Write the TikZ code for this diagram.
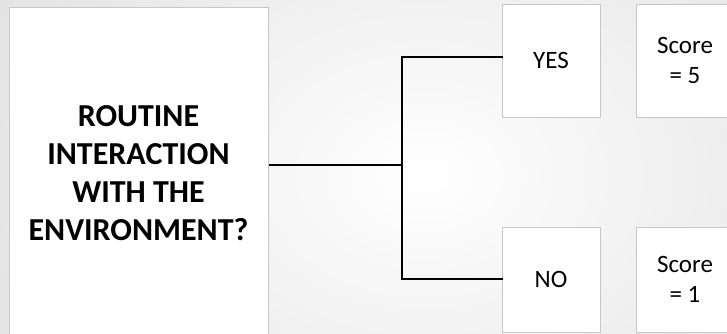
\documentclass[tikz,border=0pt]{standalone}
\usepackage{fontspec}
\setmainfont{Carlito}
\begin{document}
\begin{tikzpicture}[x=1pt,y=-1pt,
  box/.style={draw=black!22,line width=1pt,fill=white,align=center,inner sep=0pt},
  bigtext/.style={font=\fontsize{32}{38}\selectfont\bfseries},
  smalltext/.style={font=\fontsize{25}{30.5}\selectfont},
  conn/.style={draw=black,line width=2.6pt}]
\useasboundingbox (0,0) rectangle (727,333);
\clip (0,0) rectangle (727,333);
\shade[inner color=white,outer color=black!13] (-150,-250) rectangle (1000,600);
\node[box,bigtext,minimum width=259pt,minimum height=333pt] (main) at (138.5,173.5)
  {ROUTINE\\INTERACTION\\WITH THE\\ENVIRONMENT?};
\node[box,smalltext,minimum width=98pt,minimum height=113pt] (yes) at (551,60.5) {YES};
\node[box,smalltext,minimum width=98pt,minimum height=113pt] (s5) at (685,60.5) {Score\\= 5};
\node[box,smalltext,minimum width=98pt,minimum height=105pt] (no) at (551,279.5) {NO};
\node[box,smalltext,minimum width=98pt,minimum height=105pt] (s1) at (685,279.5) {Score\\= 1};
\coordinate (j) at (402,165);
\coordinate (t) at (402,57);
\coordinate (b) at (402,279);
\draw[conn] (main.east |- j) -- (j);
\draw[conn,line cap=rect] (yes.west |- t) -- (t) -- (b) -- (no.west |- b);
\end{tikzpicture}
\end{document}
